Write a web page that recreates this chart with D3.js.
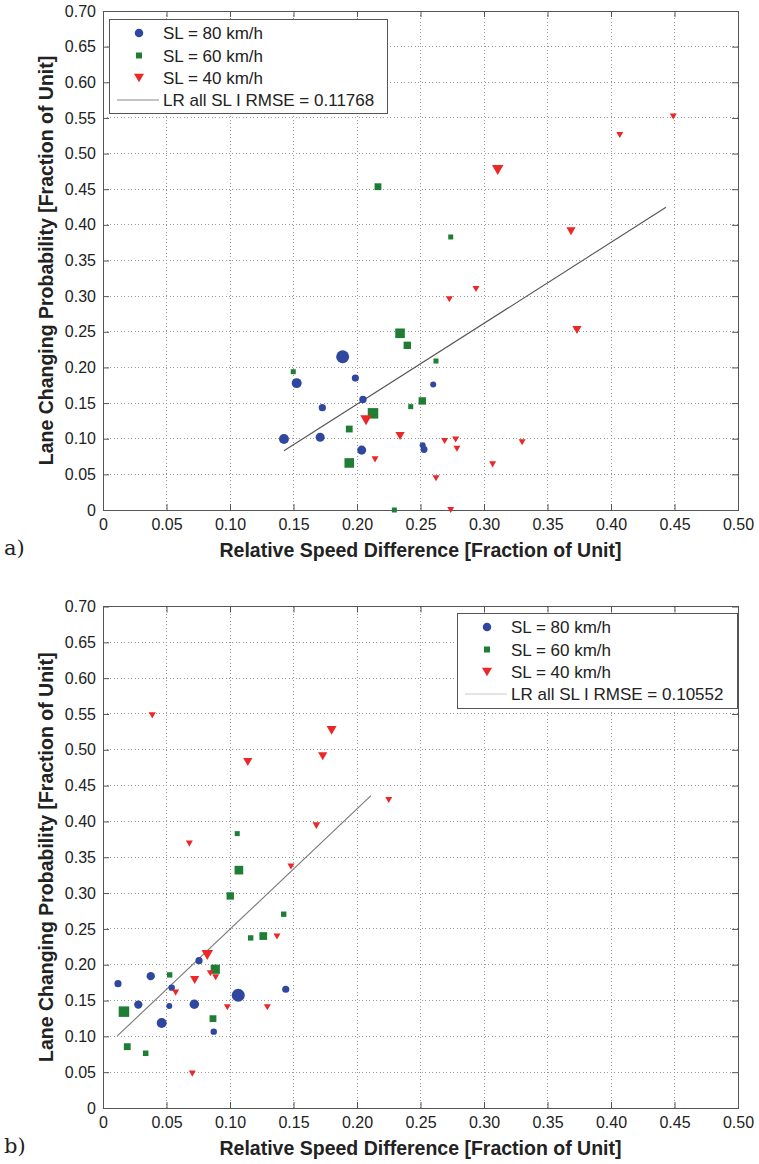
<!DOCTYPE html>
<html>
<head>
<meta charset="utf-8">
<script src="https://cdn.jsdelivr.net/npm/d3@7"></script>
<style>
  body { margin: 0; background: #fff; }
  svg { display: block; }
  text { font-family: "Liberation Sans", Arial, sans-serif; fill: #222; }
</style>
</head>
<body>
<svg id="chart" width="759" height="1164"></svg>
<script>
// shared ticks / labels
var xTicks = [0, 0.05, 0.10, 0.15, 0.20, 0.25, 0.30, 0.35, 0.40, 0.45, 0.50];
var yTicks = [0, 0.05, 0.10, 0.15, 0.20, 0.25, 0.30, 0.35, 0.40, 0.45, 0.50, 0.55, 0.60, 0.65, 0.70];
var seriesNames = ["SL = 80 km/h", "SL = 60 km/h", "SL = 40 km/h"];
var xTitle = "Relative Speed Difference [Fraction of Unit]";
var yTitle = "Lane Changing Probability [Fraction of Unit]";

// panel a) -- x, y and relative marker weight per point
var a80x = [0.1425, 0.1525, 0.171, 0.1727, 0.1887, 0.1987, 0.2037, 0.2047, 0.2517, 0.2528, 0.260];
var a80y = [0.0996, 0.178, 0.102, 0.1435, 0.215, 0.185, 0.084, 0.155, 0.091, 0.085, 0.176];
var a80w = [2.7, 2.7, 2.3, 1.5, 4, 1.5, 2.3, 1.6, 1, 1.4, 1];

var a60x = [0.1498, 0.2165, 0.2738, 0.2339, 0.2396, 0.2622, 0.2514, 0.2423, 0.2126, 0.1939, 0.1939, 0.2294];
var a60y = [0.194, 0.4535, 0.383, 0.2479, 0.231, 0.209, 0.153, 0.145, 0.1356, 0.1136, 0.066, 0.0];
var a60w = [1, 2, 1, 3.5, 2.3, 1, 2.3, 1, 4, 2, 3.5, 1];

var a40x = [0.449, 0.4069, 0.3108, 0.3685, 0.2937, 0.2727, 0.3732, 0.2071, 0.2339, 0.269, 0.2777, 0.2787, 0.330, 0.2142, 0.3068, 0.2622, 0.2738];
var a40y = [0.552, 0.526, 0.477, 0.391, 0.310, 0.2956, 0.2525, 0.126, 0.1038, 0.0968, 0.099, 0.086, 0.095, 0.071, 0.064, 0.0445, 0.0];
var a40w = [1, 1, 4, 2.5, 1, 1, 2.5, 4, 2.5, 1, 1, 1, 1, 1, 1, 1, 1];

var aLineX = [0.1425, 0.4433];
var aLineY = [0.083, 0.4246];
var aRmse = "0.11768";

// panel b)
var b80x = [0.0118, 0.0278, 0.0376, 0.0462, 0.0522, 0.0541, 0.0719, 0.0756, 0.0872, 0.1065, 0.1439];
var b80y = [0.1736, 0.1443, 0.184, 0.1187, 0.1425, 0.168, 0.1448, 0.2057, 0.1066, 0.1574, 0.1658];
var b80w = [1.5, 2, 2, 2.7, 1, 1.2, 2.5, 1.5, 1.2, 4, 1.5];

var b60x = [0.0165, 0.0191, 0.0336, 0.0525, 0.0866, 0.0884, 0.1002, 0.1163, 0.1262, 0.1423, 0.1057, 0.107];
var b60y = [0.1345, 0.0856, 0.0764, 0.1858, 0.1247, 0.1937, 0.296, 0.2374, 0.240, 0.2705, 0.383, 0.332];
var b60w = [4, 2, 1.3, 1.2, 2, 3.3, 2.3, 1.2, 2.5, 1.2, 1, 3];

var b40x = [0.0388, 0.068, 0.114, 0.173, 0.180, 0.168, 0.148, 0.225, 0.0821, 0.0845, 0.0887, 0.0722, 0.0572, 0.0979, 0.1294, 0.137, 0.0703];
var b40y = [0.548, 0.369, 0.483, 0.491, 0.527, 0.394, 0.337, 0.430, 0.2137, 0.188, 0.1825, 0.1788, 0.161, 0.1406, 0.1406, 0.2393, 0.048];
var b40w = [1, 1, 2.5, 2.5, 3, 1.5, 1, 1, 4, 1, 1, 2.5, 1, 1, 1, 1, 1];

var bLineX = [0.0113, 0.211];
var bLineY = [0.1006, 0.436];
var bRmse = "0.10552";

var colors = ["#2f479e", "#1f7d35", "#ec2727"];

var svg = d3.select("#chart");
var fmt = function(d) { return d === 0 ? "0" : d3.format(".2f")(d); };

function zip(xs, ys, ws) {
  return xs.map(function(x, i) { return { x: x, y: ys[i], w: ws[i] }; });
}

// marker sizes from weight
var circleD = d3.scaleLinear().domain([1, 4]).range([6, 13]);
var squareS = d3.scaleLinear().domain([1, 4]).range([5, 10.5]);
var triW = d3.scaleLinear().domain([1, 4]).range([7, 11.5]);

function markerPath(type, size) {
  if (type === 0) return d3.symbol(d3.symbolCircle, Math.PI * size * size / 4)();
  if (type === 1) return d3.symbol(d3.symbolSquare, size * size)();
  var h = size * 0.87;
  return "M" + (-size / 2) + "," + (-h / 2) + "L" + (size / 2) + "," + (-h / 2) + "L0," + (h / 2) + "Z";
}
function markerSize(type, w) {
  return type === 0 ? circleD(w) : type === 1 ? squareS(w) : triW(w);
}

function drawPanel(p) {
  var width = 635, height = p.height;
  var g = svg.append("g").attr("transform", "translate(" + p.left + "," + p.top + ")");

  var x = d3.scaleLinear().domain([0, 0.5]).range([0, width]);
  var y = d3.scaleLinear().domain([0, 0.7]).range([height, 0]);

  // dotted grid
  g.append("g").attr("class", "grid")
    .selectAll("line.gx").data(xTicks.slice(1, -1)).enter().append("line")
    .attr("x1", function(d) { return x(d); }).attr("x2", function(d) { return x(d); })
    .attr("y1", 0).attr("y2", height);
  g.select(".grid")
    .selectAll("line.gy").data(yTicks.slice(1, -1)).enter().append("line")
    .attr("x1", 0).attr("x2", width)
    .attr("y1", function(d) { return y(d); }).attr("y2", function(d) { return y(d); });
  g.selectAll(".grid line")
    .attr("stroke", "#999").attr("stroke-width", 1).attr("stroke-dasharray", "1,2.5")
    .attr("shape-rendering", "crispEdges");

  // axes, ticks inward
  var bottom = g.append("g").attr("transform", "translate(0," + height + ")")
    .call(d3.axisBottom(x).tickValues(xTicks).tickFormat(fmt).tickSizeInner(-6).tickSizeOuter(0).tickPadding(9));
  var left = g.append("g")
    .call(d3.axisLeft(y).tickValues(yTicks).tickFormat(fmt).tickSizeInner(-6).tickSizeOuter(0).tickPadding(7));
  g.append("g")
    .call(d3.axisTop(x).tickValues(xTicks).tickFormat("").tickSizeInner(-6).tickSizeOuter(0));
  g.append("g").attr("transform", "translate(" + width + ",0)")
    .call(d3.axisRight(y).tickValues(yTicks).tickFormat("").tickSizeInner(-6).tickSizeOuter(0));
  g.selectAll(".domain").remove();
  g.selectAll(".tick line").attr("stroke", "#555");
  g.selectAll(".tick text").style("font-size", "16px").attr("fill", "#222")
    .style("font-family", "'Liberation Sans', Arial, sans-serif");
  bottom.selectAll(".tick text").attr("dy", "0.71em");

  // frame
  g.append("rect").attr("width", width).attr("height", height)
    .attr("fill", "none").attr("stroke", "#555").attr("stroke-width", 1)
    .attr("shape-rendering", "crispEdges");

  // regression line
  var lineData = p.lineX.map(function(v, i) { return [v, p.lineY[i]]; });
  g.append("path").datum(lineData)
    .attr("d", d3.line().x(function(d) { return x(d[0]); }).y(function(d) { return y(d[1]); }))
    .attr("fill", "none").attr("stroke", p.lineColor).attr("stroke-width", 1.1);

  // markers
  p.series.forEach(function(s, k) {
    g.append("g").selectAll("path").data(s).enter().append("path")
      .attr("transform", function(d) { return "translate(" + x(d.x) + "," + y(d.y) + ")"; })
      .attr("d", function(d) { return markerPath(k, markerSize(k, d.w)); })
      .attr("fill", colors[k]);
  });

  // legend
  var lg = svg.append("g").attr("transform", "translate(" + p.legend[0] + "," + p.legend[1] + ")");
  lg.append("rect").attr("width", p.legend[2]).attr("height", p.legend[3])
    .attr("fill", "#fff").attr("stroke", "#555").attr("stroke-width", 1)
    .attr("shape-rendering", "crispEdges");
  var rows = [14, 36.5, 59, 81];
  var legSizes = [8.5, 6, 10];
  seriesNames.forEach(function(name, k) {
    lg.append("path").attr("transform", "translate(30," + rows[k] + ")")
      .attr("d", markerPath(k, legSizes[k])).attr("fill", colors[k]);
    lg.append("text").attr("x", 54).attr("y", rows[k]).attr("dy", "0.36em")
      .style("font-size", "17px").text(name);
  });
  lg.append("line").attr("x1", 8).attr("x2", 50).attr("y1", rows[3]).attr("y2", rows[3])
    .attr("stroke", p.legLineColor).attr("stroke-width", 1);
  lg.append("text").attr("x", 54).attr("y", rows[3]).attr("dy", "0.36em")
    .style("font-size", "17px").text("LR all SL I RMSE = " + p.rmse);

  // titles
  svg.append("text").attr("x", p.left + width / 2).attr("y", p.top + height + 47)
    .attr("text-anchor", "middle").style("font-size", "19.5px").style("font-weight", "bold")
    .text(xTitle);
  svg.append("text").attr("transform", "translate(53," + (p.top + height / 2) + ") rotate(-90)")
    .attr("text-anchor", "middle").style("font-size", "19.5px").style("font-weight", "bold")
    .text(yTitle);
  svg.append("text").attr("x", 4).attr("y", p.top + height + 45)
    .style("font-family", "'DejaVu Serif', 'Liberation Serif', serif").style("font-size", "21px")
    .text(p.tag);
}

drawPanel({
  left: 103, top: 11, height: 499, tag: "a)",
  series: [zip(a80x, a80y, a80w), zip(a60x, a60y, a60w), zip(a40x, a40y, a40w)],
  lineX: aLineX, lineY: aLineY, lineColor: "#555", legLineColor: "#888", rmse: aRmse,
  legend: [109, 19, 278, 94]
});
drawPanel({
  left: 103, top: 606.5, height: 501.5, tag: "b)",
  series: [zip(b80x, b80y, b80w), zip(b60x, b60y, b60w), zip(b40x, b40y, b40w)],
  lineX: bLineX, lineY: bLineY, lineColor: "#777", legLineColor: "#c8c8c8", rmse: bRmse,
  legend: [457, 613, 280, 95]
});
</script>
</body>
</html>
